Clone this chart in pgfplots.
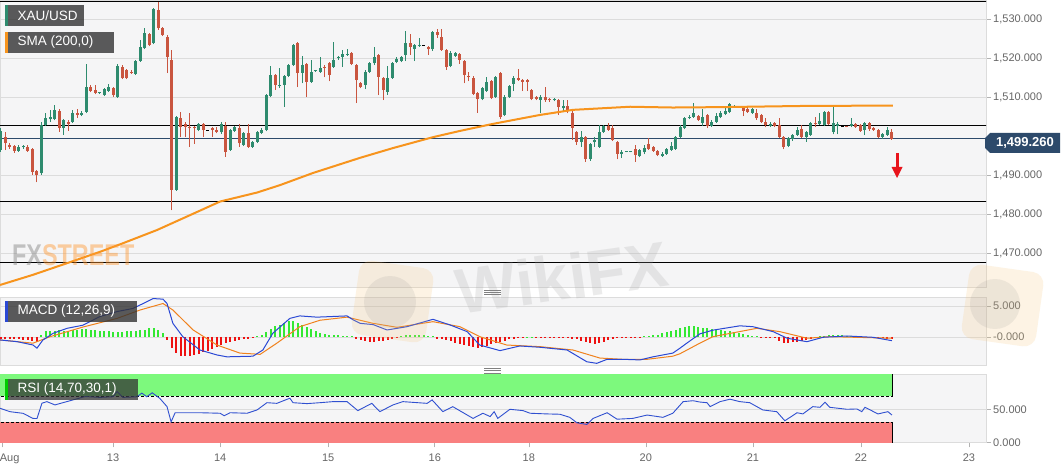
\documentclass[border=0pt]{standalone}
\usepackage{pgfplots}
\usepackage{pgfplotstable}
\pgfplotsset{compat=1.18}
\usepackage{fontspec}
\setmainfont{Liberation Sans}

\definecolor{bgc}{HTML}{F5F5F6}
\definecolor{gridc}{HTML}{DCDCDC}
\definecolor{upc}{HTML}{2E8B6E}
\definecolor{dnc}{HTML}{C9553F}
\definecolor{smac}{HTML}{F7941D}
\definecolor{pricec}{HTML}{2D4A6B}
\definecolor{tickc}{HTML}{666666}
\definecolor{macdc}{HTML}{2A48D4}
\definecolor{sigc}{HTML}{F0821E}
\definecolor{hup}{HTML}{33E833}
\definecolor{hdn}{HTML}{EE1111}
\definecolor{rsic}{HTML}{3050D0}
\definecolor{obc}{HTML}{7DF97D}
\definecolor{osc}{HTML}{F98080}
\definecolor{arrc}{HTML}{E8141B}
\definecolor{logoc}{HTML}{F5C77A}

\pgfplotsset{
  panel/.style={
    scale only axis, width=986pt, xmin=-0.22, xmax=218.9,
    axis background/.style={fill=bgc},
    axis line style={draw=gridc},
    ymajorgrids, grid style={draw=gridc, line width=0.8pt},
    xtick=\empty,
    yticklabel pos=right, ytick pos=right,
    tick align=outside, major tick length=5pt,
    y tick style={draw=gray!60, line width=0.6pt},
    yticklabel style={font=\fontsize{11pt}{13pt}\selectfont, text=tickc, anchor=west, inner sep=0pt, xshift=2pt},
    /pgf/number format/assume math mode=true,
  },
  cwick/.style={mark=none, draw=#1, line width=1pt,
    quiver={u=0, v={\thisrow{h}-\thisrow{l}},
      every arrow/.append style={draw=#1, line width=1pt, line cap=butt}}},
  cbody/.style={mark=none, draw=#1, line width=3pt,
    quiver={u=0, v={2*max(abs(\thisrow{c}-\thisrow{o})/2,0.13)},
      every arrow/.append style={draw=#1, line width=3pt, line cap=butt}}},
}

% up (green) candles: index, open, high, low, close
\pgfplotstableread{
i o h l c
0 1496.4 1502.0 1496.0 1501.4
4 1496.2 1497.7 1496.0 1497.3
5 1497.3 1497.7 1496.7 1497.3
9 1490.4 1503.7 1490.0 1502.8
10 1502.8 1505.8 1502.5 1504.5
11 1504.3 1506.7 1503.7 1505.0
12 1504.3 1508.0 1504.0 1506.7
14 1502.0 1504.4 1500.3 1504.1
16 1503.7 1506.6 1503.3 1505.8
18 1505.4 1506.4 1505.0 1506.0
19 1506.2 1518.4 1505.8 1512.5
22 1511.1 1511.4 1510.8 1511.1
23 1510.5 1512.3 1510.2 1512.0
24 1511.6 1513.3 1511.3 1512.6
26 1510.1 1518.5 1509.8 1518.0
30 1515.9 1519.6 1515.6 1519.3
31 1519.3 1524.6 1519.0 1522.7
32 1522.5 1527.7 1522.2 1526.5
34 1523.8 1532.8 1523.5 1532.5
39 1486.2 1505.1 1485.9 1504.8
44 1501.5 1503.3 1501.2 1503.0
49 1500.9 1503.7 1500.6 1503.1
51 1496.4 1501.8 1496.1 1501.5
52 1501.4 1502.5 1501.1 1502.2
54 1497.7 1501.0 1497.4 1500.7
56 1497.3 1498.8 1497.0 1498.5
57 1498.5 1501.4 1498.2 1501.1
58 1500.8 1502.0 1500.5 1501.5
59 1501.5 1510.8 1501.2 1510.5
60 1510.3 1518.0 1510.0 1515.6
62 1512.7 1517.4 1512.4 1513.1
63 1513.2 1515.7 1507.5 1515.4
64 1515.4 1518.5 1515.1 1518.2
65 1518.2 1523.6 1517.9 1523.3
67 1516.2 1520.6 1513.5 1518.2
69 1513.9 1519.6 1513.6 1516.5
70 1516.7 1516.9 1516.5 1516.7
71 1516.5 1520.2 1516.2 1517.5
74 1517.8 1524.2 1517.5 1519.5
75 1519.9 1520.6 1519.6 1520.3
76 1520.2 1522.0 1517.7 1521.0
77 1520.9 1522.2 1520.6 1521.1
81 1513.1 1516.8 1512.0 1516.5
82 1516.5 1518.9 1516.2 1518.6
83 1518.6 1522.7 1518.2 1520.3
86 1511.4 1518.0 1510.6 1514.8
87 1515.0 1519.1 1514.7 1518.8
88 1519.0 1520.3 1518.6 1519.7
89 1519.2 1520.6 1518.9 1520.3
90 1520.8 1526.8 1519.2 1523.9
92 1522.2 1523.6 1519.2 1523.3
93 1523.2 1525.0 1522.9 1523.4
96 1522.2 1526.9 1521.9 1526.6
100 1517.9 1521.7 1517.6 1521.4
101 1520.5 1521.6 1520.2 1521.3
107 1509.4 1512.5 1509.1 1512.2
108 1511.6 1515.0 1511.3 1513.9
110 1510.1 1515.5 1509.8 1515.2
112 1505.4 1510.4 1505.1 1510.1
113 1510.1 1513.2 1509.8 1512.9
114 1513.3 1515.3 1511.5 1515.0
120 1509.2 1510.5 1505.8 1510.0
123 1509.2 1509.8 1508.9 1509.5
125 1507.1 1509.2 1506.5 1507.7
129 1498.5 1501.4 1497.3 1499.8
131 1494.0 1498.2 1493.7 1497.9
132 1498.4 1499.7 1497.2 1499.0
133 1497.3 1502.8 1497.0 1501.1
134 1501.1 1502.9 1500.8 1502.6
138 1495.5 1496.4 1494.3 1495.8
139 1496.0 1496.2 1495.8 1496.0
140 1496.0 1496.2 1495.8 1496.0
142 1494.8 1496.7 1494.5 1496.4
143 1495.8 1497.6 1495.3 1497.0
147 1494.9 1495.8 1494.6 1495.5
148 1495.5 1496.9 1495.2 1496.6
149 1496.5 1498.5 1496.2 1497.5
150 1496.8 1500.1 1496.5 1499.8
151 1499.8 1502.7 1499.5 1502.4
152 1502.0 1504.8 1501.7 1504.5
153 1504.6 1505.3 1504.3 1505.0
154 1505.0 1508.4 1504.7 1505.8
156 1503.4 1506.8 1502.6 1504.8
158 1502.6 1504.0 1502.3 1503.7
159 1503.7 1506.0 1503.4 1505.0
160 1504.8 1506.3 1504.5 1506.0
161 1505.6 1507.1 1505.3 1506.4
162 1506.1 1508.4 1505.8 1508.1
163 1507.5 1508.0 1507.2 1507.7
167 1506.0 1507.3 1505.7 1506.8
171 1502.6 1503.5 1502.3 1503.2
175 1497.4 1499.7 1497.1 1499.4
176 1499.2 1500.6 1498.8 1500.3
177 1500.3 1502.4 1500.0 1501.5
179 1499.8 1501.4 1498.5 1501.1
180 1500.3 1503.7 1500.0 1503.4
182 1503.1 1505.8 1502.8 1503.9
183 1502.8 1506.5 1502.5 1506.2
185 1501.1 1507.5 1500.4 1503.4
186 1502.6 1503.5 1500.4 1503.2
189 1502.5 1504.5 1502.2 1503.0
192 1501.5 1503.7 1500.2 1503.4
196 1499.8 1500.8 1499.3 1500.5
197 1500.3 1502.2 1500.0 1501.5
}\upc

% down (red) candles
\pgfplotstableread{
i o h l c
1 1499.8 1501.1 1496.4 1498.1
2 1497.7 1498.1 1496.7 1497.3
3 1497.5 1497.7 1495.7 1496.2
6 1497.3 1497.6 1495.9 1496.2
7 1496.7 1497.0 1490.0 1490.9
8 1490.9 1491.2 1488.1 1490.0
13 1506.5 1506.8 1501.1 1502.0
15 1503.7 1504.1 1501.4 1503.2
17 1505.8 1506.8 1504.6 1505.4
20 1512.5 1513.0 1511.2 1511.6
21 1511.9 1513.0 1510.7 1511.1
25 1512.2 1512.5 1510.1 1510.5
27 1517.8 1518.1 1514.5 1514.8
28 1516.8 1517.1 1514.5 1514.8
29 1516.3 1517.0 1515.9 1516.2
33 1526.1 1526.4 1523.0 1523.3
35 1532.3 1534.4 1527.3 1527.6
36 1527.6 1527.9 1525.6 1525.9
37 1525.5 1525.8 1516.1 1520.3
38 1519.5 1522.0 1480.9 1486.2
40 1504.5 1506.2 1499.7 1502.4
41 1503.2 1503.5 1499.7 1502.4
42 1502.4 1505.8 1497.3 1502.0
43 1502.2 1502.5 1498.0 1502.0
45 1503.1 1503.4 1499.7 1501.5
47 1502.0 1502.4 1499.8 1501.5
48 1501.5 1502.4 1500.7 1501.1
50 1502.6 1503.7 1494.7 1496.0
53 1502.0 1503.1 1497.3 1498.1
55 1500.7 1503.0 1497.0 1497.3
61 1515.6 1515.9 1511.8 1513.1
66 1523.9 1524.2 1512.5 1516.1
68 1518.4 1518.7 1510.1 1513.9
72 1517.8 1518.1 1515.0 1517.4
73 1518.6 1518.9 1514.0 1515.6
78 1521.2 1521.5 1518.2 1518.5
79 1518.2 1518.5 1508.4 1514.4
80 1513.5 1513.8 1512.2 1512.5
84 1520.8 1521.1 1510.5 1515.2
85 1514.8 1515.1 1509.2 1511.8
91 1523.8 1526.2 1520.8 1522.9
95 1522.7 1523.0 1520.8 1522.2
97 1526.6 1527.4 1525.2 1525.9
98 1525.5 1527.4 1521.8 1522.1
99 1522.1 1522.4 1517.0 1517.8
102 1521.1 1521.4 1518.5 1519.5
103 1519.2 1519.5 1513.5 1515.6
104 1515.4 1516.3 1514.0 1515.0
105 1515.0 1515.3 1510.5 1510.9
106 1510.9 1511.2 1506.0 1509.4
109 1514.0 1514.3 1509.4 1509.7
111 1516.1 1516.4 1504.3 1505.0
115 1514.8 1517.1 1514.1 1514.4
116 1514.4 1514.7 1511.5 1513.9
117 1514.4 1514.7 1511.5 1513.9
118 1511.8 1512.1 1509.1 1509.4
119 1509.9 1510.2 1509.1 1509.4
121 1510.1 1512.5 1508.8 1509.1
122 1509.4 1509.7 1508.8 1509.1
124 1509.2 1509.5 1505.4 1507.4
126 1507.7 1509.2 1505.8 1506.7
127 1506.0 1506.3 1499.0 1502.0
128 1501.1 1501.4 1497.7 1498.5
130 1499.8 1500.1 1493.4 1494.0
135 1502.6 1503.3 1501.3 1501.6
136 1502.0 1502.8 1498.7 1499.0
137 1498.5 1498.8 1494.0 1495.4
141 1496.8 1497.6 1493.4 1495.1
144 1497.9 1499.6 1496.5 1496.8
145 1497.2 1497.5 1495.9 1496.2
146 1496.2 1496.5 1494.8 1495.1
155 1505.2 1505.5 1503.8 1504.1
157 1505.4 1505.7 1502.0 1502.6
164 1507.5 1507.7 1507.3 1507.5
165 1507.3 1507.6 1505.1 1506.5
166 1506.8 1507.5 1505.9 1506.2
168 1505.8 1506.8 1504.2 1504.5
169 1505.4 1505.7 1503.4 1503.7
170 1503.7 1504.5 1502.2 1502.8
172 1503.4 1503.7 1502.3 1502.6
173 1502.8 1504.5 1499.5 1499.8
174 1499.8 1500.1 1496.6 1497.3
178 1501.7 1502.8 1499.5 1499.8
181 1503.4 1504.9 1502.4 1503.1
184 1506.2 1506.5 1502.9 1503.2
188 1502.4 1502.6 1502.2 1502.4
190 1503.1 1503.4 1502.1 1502.4
191 1502.8 1503.1 1501.1 1501.4
193 1503.4 1503.7 1501.4 1501.7
194 1502.0 1502.3 1501.3 1501.6
195 1501.5 1501.8 1499.5 1499.8
198 1501.1 1501.9 1499.0 1499.3
}\dnc

% flat (black dash) candles
\pgfplotstableread{
i o h l c
46 1501.5 1501.6 1501.4 1501.5
94 1523.3 1523.4 1523.2 1523.3
187 1502.4 1502.5 1502.3 1502.4
}\flc

\pgfplotstableread{
i v
0 -0.3
1 -0.3
2 -0.35
3 -0.4
4 -0.4
5 -0.45
6 -0.5
7 -0.65
8 -0.75
9 0.4
10 0.9
11 1.0
12 1.0
13 1.1
14 1.0
15 1.0
16 1.1
17 1.2
18 1.3
19 1.3
20 1.2
21 1.1
22 1.0
23 0.9
24 0.9
25 0.8
26 0.8
27 0.8
28 0.9
29 1.0
30 1.0
31 1.1
32 1.2
33 1.4
34 1.4
35 1.2
36 0.6
37 -0.5
38 -1.8
39 -2.6
40 -3.0
41 -3.1
42 -3.0
43 -2.9
44 -2.7
45 -2.5
46 -2.2
47 -1.9
48 -1.6
49 -1.3
50 -1.0
51 -0.8
52 -0.6
53 -0.5
54 -0.4
55 -0.3
56 -0.1
57 0.1
58 0.3
59 0.8
60 1.3
61 1.7
62 2.0
63 2.2
64 2.5
65 2.6
66 2.3
67 2.0
68 1.6
69 1.3
70 1.0
71 0.7
72 0.5
73 0.4
74 0.3
75 0.3
76 0.2
77 0.2
78 0.1
79 -0.3
80 -0.5
81 -0.7
82 -0.8
83 -0.8
84 -0.7
85 -0.6
86 -0.5
87 -0.4
88 -0.2
89 0.2
90 0.3
91 0.3
92 0.3
93 0.3
94 0.3
95 0.2
96 0.1
97 -0.3
98 -0.4
99 -0.5
100 -0.6
101 -0.9
102 -1.1
103 -1.3
104 -1.5
105 -1.6
106 -1.7
107 -1.6
108 -1.4
109 -1.2
110 -1.0
111 -0.8
112 -0.6
113 -0.4
114 -0.3
115 -0.2
116 -0.1
117 0.05
118 0.05
119 -0.1
120 -0.1
121 -0.1
122 -0.1
123 -0.1
124 -0.15
125 -0.2
126 -0.2
127 -0.3
128 -0.4
129 -0.6
130 -0.8
131 -1.0
132 -1.1
133 -1.0
134 -0.8
135 -0.5
136 -0.3
137 -0.2
138 -0.2
139 -0.2
140 -0.15
141 -0.1
142 -0.05
143 0.1
144 0.2
145 0.3
146 0.4
147 0.6
148 0.8
149 1.0
150 1.2
151 1.4
152 1.6
153 1.7
154 1.7
155 1.6
156 1.5
157 1.4
158 1.3
159 1.2
160 1.1
161 1.0
162 0.9
163 0.8
164 0.6
165 0.5
166 0.4
167 0.2
168 0.1
169 -0.1
170 -0.1
171 -0.15
172 -0.2
173 -0.6
174 -0.9
175 -0.9
176 -0.85
177 -0.8
178 -0.7
179 -0.5
180 -0.3
181 -0.1
182 0.1
183 0.2
184 0.3
185 0.3
186 0.3
187 0.25
188 0.2
189 0.1
190 0.05
191 -0.05
192 -0.1
193 -0.1
194 -0.15
195 -0.2
196 -0.2
197 -0.25
198 -0.3
}\hist

\begin{document}
\begin{tikzpicture}
\useasboundingbox (0pt,0pt) rectangle (1063pt,469pt);
\fill[white] (0pt,0pt) rectangle (1063pt,469pt);

% ---------------- price panel ----------------
\begin{axis}[panel, at={(0pt,469pt)}, anchor=north west, height=287pt,
  ymin=1461.28, ymax=1534.87,
  ytick={1470,1480,1490,1510,1520,1530},
  yticklabels={{1,470.000},{1,480.000},{1,490.000},{1,510.000},{1,520.000},{1,530.000}}]
  \addplot[black, line width=1pt] coordinates {(-1,1534.4) (220,1534.4)};
  \addplot[black, line width=1pt] coordinates {(-1,1502.7) (220,1502.7)};
  \addplot[black, line width=1pt] coordinates {(-1,1483.3) (220,1483.3)};
  \addplot[black, line width=1pt] coordinates {(-1,1467.6) (220,1467.6)};
  \addplot[pricec, line width=1pt] coordinates {(-1,1499.26) (220,1499.26)};
  \addplot[cwick=upc] table[x=i, y=l] {\upc};
  \addplot[cwick=dnc] table[x=i, y=l] {\dnc};
  \addplot[cbody=upc] table[x=i, y expr={(\thisrow{o}+\thisrow{c})/2-max(abs(\thisrow{c}-\thisrow{o})/2,0.13)}] {\upc};
  \addplot[cbody=dnc] table[x=i, y expr={(\thisrow{o}+\thisrow{c})/2-max(abs(\thisrow{c}-\thisrow{o})/2,0.13)}] {\dnc};
  \addplot[cbody=black] table[x=i, y expr={(\thisrow{o}+\thisrow{c})/2-max(abs(\thisrow{c}-\thisrow{o})/2,0.13)}] {\flc};
  \addplot[smac, line width=2pt, line join=round] coordinates {
    (-0.2,1461.8) (7.1,1464.4) (14.7,1467.4) (22,1470.3) (27.1,1472.5) (34.7,1475.9)
    (42,1479.7) (48.7,1483.2) (56.9,1485.5) (62,1487.4) (69.3,1490.5) (79.8,1494.4)
    (87.1,1496.9) (96,1499.7) (102,1501.3) (109.3,1503.1) (119.8,1505.4) (127.1,1506.7)
    (139.8,1507.5) (149.3,1507.3) (159.8,1507.4) (178.2,1507.7) (198.2,1507.8)};
\end{axis}

% ---------------- MACD panel ----------------
\begin{axis}[panel, at={(0pt,172pt)}, anchor=north west, height=68pt,
  ymin=-4.52, ymax=6.45, ytick={0,5}, yticklabels={{-0.000},{5.000}}]
  \addplot[ycomb, mark=none, hup, line width=2pt] table[x=i, y expr={max(\thisrow{v},0)}] {\hist};
  \addplot[ycomb, mark=none, hdn, line width=2pt] table[x=i, y expr={min(\thisrow{v},0)}] {\hist};
  \addplot[sigc, line width=1pt] coordinates {
    (-0.2,-0.48) (7.1,-1.0) (10.9,0.05) (18.2,1.6) (25.8,3.0) (30.9,4.35) (36,5.4)
    (38.2,4.35) (42.7,1.13) (48,-1.3) (53.1,-2.6) (57.6,-2.8) (61.3,-1.0) (66.4,1.66)
    (70.9,2.7) (76.9,3.2) (82.7,2.2) (88,1.56) (96,2.47) (102,1.66) (106.4,0.05)
    (112.4,-1.3) (119.8,-1.56) (127.1,-2.1) (133.1,-3.4) (138.2,-3.6) (143.6,-3.6)
    (149.3,-3.1) (150.9,-2.7) (155.3,-1.0) (158.2,0.05) (168,1.4) (173.1,0.86)
    (179.1,-0.2) (184.2,0.05) (198,-0.2)};
  \addplot[macdc, line width=1pt] coordinates {
    (-0.2,-0.48) (3.6,-0.76) (7.1,-1.29) (8.0,-1.8) (9.3,-0.5) (11.6,0.6) (14.7,1.4)
    (18.2,1.9) (22,3.3) (25.8,4.1) (29.3,4.6) (31.6,5.4) (33.8,6.2) (36,6.1) (36.9,5.4)
    (38.2,2.2) (40.4,0.05) (44.2,-2.1) (48,-2.9) (50.2,-3.2) (56,-3.1) (58.2,-2.1)
    (60.4,0.6) (64.2,3.0) (66.4,3.4) (70.2,3.2) (76.9,3.4) (78.2,2.8) (79.8,2.2)
    (82.7,2.0) (85.8,1.13) (90.2,1.66) (96,2.85) (99.8,1.94) (103.6,0.86) (106.4,-1.3)
    (110.9,-2.2) (115.3,-1.45) (119.8,-1.66) (125.8,-2.1) (130.2,-4.0) (132.4,-4.25)
    (134.7,-3.6) (138.2,-3.6) (142,-3.7) (144.9,-3.2) (149.3,-2.6) (150.9,-1.8)
    (152.4,-1.0) (155.3,0.5) (158.2,1.1) (164.2,1.8) (167.1,1.66) (171.6,0.86)
    (174.7,-0.2) (179.1,-0.76) (182.7,-0.05) (188,0.16) (193.8,-0.05) (198,-0.6)};
\end{axis}

% ---------------- RSI panel ----------------
\begin{axis}[panel, at={(0pt,94.5pt)}, anchor=north west, height=67.8pt,
  ymin=0, ymax=102.7, ytick={0,50}, yticklabels={{0.000},{50.000}},
  xtick={0.22,24.9,48.7,72.7,96.4,117.3,143.3,167.1,191.1,215.1},
  xticklabels={12 Aug,13,14,15,16,18,20,21,22,23},
  xtick pos=bottom, major x tick style={draw=gray!60, line width=0.6pt},
  xticklabel style={font=\fontsize{11pt}{13pt}\selectfont, text=tickc, yshift=-3pt}]
  \addplot[draw=none, fill=obc] coordinates {(-1,70) (198.2,70) (198.2,110) (-1,110)} -- cycle;
  \addplot[draw=none, fill=osc] coordinates {(-1,-1) (198.2,-1) (198.2,30) (-1,30)} -- cycle;
  \addplot[black, densely dashed, line width=0.7pt] coordinates {(-1,70) (198.2,70)};
  \addplot[black, densely dashed, line width=0.7pt] coordinates {(-1,30) (198.2,30)};
  \addplot[black, line width=0.8pt] coordinates {(198.2,70) (198.2,110)};
  \addplot[black, line width=0.8pt] coordinates {(198.2,-1) (198.2,30)};
  \addplot[rsic, line width=0.9pt] coordinates {
    (-0.2,51.5) (2,46.4) (4.9,43.9) (7.1,36.2) (8,36) (9.1,59.2) (10.2,61.6) (12,56.6)
    (12.7,58) (16,64.2) (18.7,69.3) (22,68) (24.9,69) (25.8,76.9) (27.1,68) (30.2,69)
    (31.3,74.5) (32.4,69) (33.6,75) (35.3,66.5) (36.9,54) (37.8,31) (38.7,44.8)
    (44.2,44.8) (48.7,44) (49.6,40.2) (50.9,44.8) (54.7,44) (56.9,49) (59.1,60)
    (61.3,59) (64.2,66.8) (64.9,60) (68,58.6) (70.9,60) (73.8,61.6) (76.9,61.6)
    (79.3,48) (82.4,59) (84.2,46.4) (87.1,56.6) (89.3,61.6) (94.7,59) (95.8,64.2)
    (98.2,46.4) (100.4,54) (104.9,36.2) (107.1,44) (108.7,39) (109.6,46.4) (110.4,36.2)
    (113.1,50) (116,48) (117.6,44) (121.3,43) (124.2,42.5) (126.4,37.8) (128,29.5)
    (130.2,27) (131.6,36.2) (134.7,44.8) (136.9,35) (140.4,36.2) (143.6,41.3)
    (147.1,37.8) (149.3,44) (151.6,61.6) (153.8,63) (155.3,61) (156.9,60) (157.6,54)
    (159.8,61.6) (162,65.3) (164.2,61.6) (166.4,60) (169.3,49) (172.4,46.4) (174.2,32.6)
    (176.9,44.8) (178.2,43) (180.4,54) (182,53) (183.1,60.7) (184.2,53) (188,50)
    (190.2,50.5) (191.3,46.4) (192,53) (194.9,43) (197.1,46.4) (198,41.3)};
\end{axis}

% ---------------- watermarks ----------------
\begin{scope}[opacity=0.2]
  \fill[logoc, rounded corners=12pt, rotate around={-8:(392pt,167pt)}] (355pt,130pt) rectangle (430pt,205pt);
  \fill[logoc, rounded corners=12pt, rotate around={-8:(1002pt,163pt)}] (965pt,126pt) rectangle (1040pt,201pt);
\end{scope}
\begin{scope}[opacity=0.12]
  \fill[gray] (390pt,167pt) circle (26pt);
  \fill[gray] (995pt,165pt) circle (25pt);
\end{scope}
\node[rotate=8, text=gray!70, opacity=0.22, font=\fontsize{64pt}{68pt}\selectfont\bfseries] at (562pt,192pt) {WikiFX};
\node[anchor=west, opacity=0.45, font=\fontsize{30pt}{32pt}\selectfont\bfseries, xscale=0.78, inner sep=0pt] at (12pt,214pt) {\textcolor{gray}{FX}\textcolor{orange!80}{STREET}};

% ---------------- labels ----------------
\fill[black!80, opacity=0.8] (5pt,443pt) rectangle (84pt,464pt);
\fill[upc] (5pt,443pt) rectangle (8pt,464pt);
\node[anchor=west, text=white, font=\fontsize{13.5pt}{15pt}\selectfont, inner sep=0pt] at (17.5pt,453.5pt) {XAU/USD};
\fill[black!80, opacity=0.8] (5pt,416pt) rectangle (114pt,437pt);
\fill[smac] (5pt,416pt) rectangle (8pt,437pt);
\node[anchor=west, text=white, font=\fontsize{13.5pt}{15pt}\selectfont, inner sep=0pt] at (17.5pt,426.5pt) {SMA (200,0)};
\fill[black!80, opacity=0.8] (5pt,147pt) rectangle (137pt,168pt);
\fill[macdc] (5pt,147pt) rectangle (8pt,168pt);
\node[anchor=west, text=white, font=\fontsize{13.5pt}{15pt}\selectfont, inner sep=0pt] at (17.5pt,157.5pt) {MACD (12,26,9)};
\fill[black!80, opacity=0.75] (5pt,69pt) rectangle (138pt,90pt);
\fill[green!80!black] (5pt,69pt) rectangle (8pt,90pt);
\node[anchor=west, text=white, font=\fontsize{13.5pt}{15pt}\selectfont, inner sep=0pt] at (17.5pt,79.5pt) {RSI (14,70,30,1)};

% price box
\fill[pricec] (985pt,331pt) -- (990pt,336pt) -- (1060pt,336pt) -- (1060pt,316pt) -- (990pt,316pt) -- (985pt,321pt) -- cycle;
\node[anchor=center, text=white, font=\fontsize{13pt}{15pt}\selectfont\bfseries, inner sep=0pt] at (1025pt,326pt) {1,499.260};

% red arrow
\fill[arrc] (895.5pt,316pt) rectangle (898.5pt,301pt);
\fill[arrc] (891.5pt,302pt) -- (902.5pt,302pt) -- (897pt,291pt) -- cycle;

% splitter handles
\foreach \yy in {178.7,176.5,174.3} {\draw[gray, line width=0.6pt] (484pt,\yy pt) -- (501pt,\yy pt);}
\foreach \yy in {100.5,98.3,96.1} {\draw[gray, line width=0.6pt] (484pt,\yy pt) -- (501pt,\yy pt);}
\end{tikzpicture}
\end{document}
